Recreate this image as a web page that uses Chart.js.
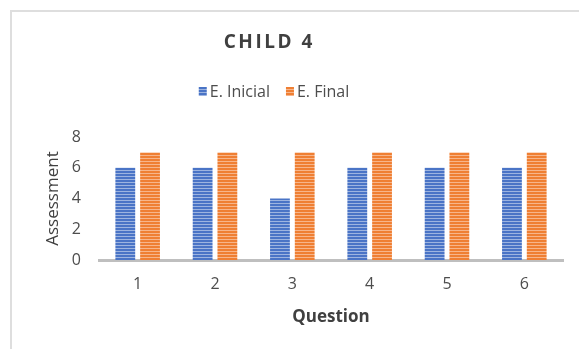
<!DOCTYPE html>
<html>
<head>
<meta charset="utf-8">
<script src="https://cdn.jsdelivr.net/npm/chart.js@4/dist/chart.umd.min.js"></script>
<style>
  html, body { margin: 0; padding: 0; background: #ffffff; }
  #wrap { position: relative; width: 579px; height: 349px; overflow: hidden; }
  #frame { position: absolute; left: 10px; top: 10px; width: 580px; height: 350px;
           border-left: 2px solid #dedede; border-top: 2px solid #dedede; box-sizing: border-box; }
  canvas { position: absolute; left: 0; top: 0; }
</style>
</head>
<body>
<div id="wrap">
  <div id="frame"></div>
  <canvas id="chart" width="579" height="349"></canvas>
</div>
<script>
// Chart content
const TITLE = 'CHILD 4';
const QUESTIONS = ['1', '2', '3', '4', '5', '6'];
const INITIAL = [6, 6, 4, 6, 6, 6];
const FINAL = [7, 7, 7, 7, 7, 7];
const SERIES_NAMES = ['E. Inicial', 'E. Final'];
const Y_TICKS = [0, 2, 4, 6, 8];

const FONT = '"Open Sans", "Liberation Sans", sans-serif';
const TEXT_GREY = '#4d4d4d';

// Horizontal striped fill (two rows of base colour, one lighter row)
function stripes(base, light) {
  const c = document.createElement('canvas');
  c.width = 4; c.height = 3;
  const g = c.getContext('2d');
  g.fillStyle = base; g.fillRect(0, 0, 4, 3);
  g.fillStyle = light; g.fillRect(0, 2, 4, 1);
  return g.createPattern(c, 'repeat');
}
const blueFill = stripes('#4a74c6', '#9db4e0');
const orangeFill = stripes('#ef7f33', '#f7b58a');

// Title and legend drawn above the plot
const headerPlugin = {
  id: 'header',
  afterDraw(chart) {
    const ctx = chart.ctx;
    const cx = 268;
    ctx.save();
    ctx.fillStyle = '#404040';
    ctx.font = 'bold 19px ' + FONT;
    ctx.letterSpacing = '2.5px';
    ctx.textAlign = 'center';
    ctx.textBaseline = 'middle';
    ctx.fillText(TITLE, cx + 1.25, 43);
    ctx.letterSpacing = '0px';

    ctx.font = '16px ' + FONT;
    ctx.textAlign = 'left';
    const box = 8, gapBox = 3, gapItem = 16;
    const items = chart.data.datasets.map(d => ({ label: d.label, fill: d.backgroundColor }));
    let total = 0;
    items.forEach((it, i) => {
      it.w = box + gapBox + ctx.measureText(it.label).width;
      total += it.w + (i ? gapItem : 0);
    });
    let x = cx + 6 - total / 2;
    const y = 91;
    items.forEach(it => {
      ctx.fillStyle = it.fill;
      ctx.fillRect(x, y - box / 2, box, box + 1);
      ctx.fillStyle = TEXT_GREY;
      ctx.fillText(it.label, x + box + gapBox, y + 1);
      x += it.w + gapItem;
    });
    ctx.restore();
  }
};

new Chart(document.getElementById('chart'), {
  type: 'bar',
  data: {
    labels: QUESTIONS,
    datasets: [
      { label: SERIES_NAMES[0], data: INITIAL, backgroundColor: blueFill },
      { label: SERIES_NAMES[1], data: FINAL, backgroundColor: orangeFill }
    ]
  },
  options: {
    responsive: false,
    animation: false,
    devicePixelRatio: 1,
    layout: { padding: { top: 137, right: 16, bottom: 1, left: 0 } },
    datasets: { bar: { categoryPercentage: 0.64, barPercentage: 0.8 } },
    plugins: { legend: { display: false }, tooltip: { enabled: false } },
    scales: {
      x: {
        grid: { display: false, drawTicks: false },
        border: { display: true, color: '#bfbfbf', width: 3 },
        ticks: { color: TEXT_GREY, font: { family: FONT, size: 16 }, padding: 15 },
        title: { display: true, text: 'Question', color: '#404040',
                 font: { family: FONT, size: 17, weight: 'bold' }, padding: { top: 0, bottom: 21 } },
        afterFit(s) { s.height = 88; }
      },
      y: {
        min: 0, max: 8,
        grid: { display: false, drawTicks: false },
        border: { display: false },
        afterBuildTicks(s) { s.ticks = Y_TICKS.map(v => ({ value: v })); },
        ticks: { color: TEXT_GREY, font: { family: FONT, size: 16 }, padding: 18 },
        title: { display: true, text: 'Assessment', color: '#404040',
                 font: { family: FONT, size: 17 }, padding: { top: 43, bottom: 0 } },
        afterFit(s) { s.width = 99; }
      }
    }
  },
  plugins: [headerPlugin]
});
</script>
</body>
</html>
